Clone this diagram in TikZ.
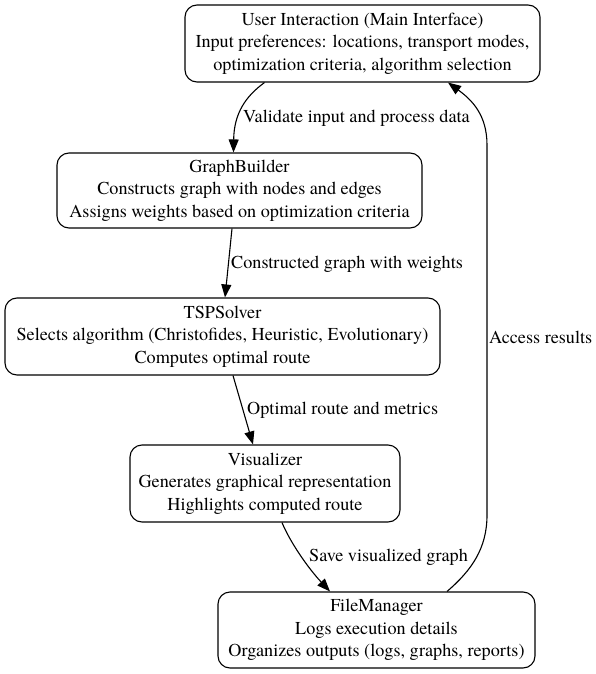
\documentclass[tikz,border=0pt]{standalone}
\usepackage{fontspec}
\setmainfont{texgyretermes-regular.otf}
\usetikzlibrary{arrows.meta}
\begin{document}
\begin{tikzpicture}[x=1pt,y=-1pt,
  font=\fontsize{18.2}{22.4}\selectfont,
  box/.style={draw, line width=1.1pt, rounded corners=12pt, align=center, inner sep=0pt},
  conn/.style={draw, line width=1.1pt, -{Triangle[length=13pt,width=10pt]}},
  lbl/.style={anchor=west, inner sep=0pt}]
\useasboundingbox (0,0) rectangle (596,674);
\node[box, minimum width=355pt, minimum height=77pt] (ui) at (362.5,43.5)
  {User Interaction (Main Interface)\\Input preferences: locations, transport modes,\\optimization criteria, algorithm selection};
\node[box, minimum width=365pt, minimum height=75pt] (gb) at (239.5,190.5)
  {GraphBuilder\\Constructs graph with nodes and edges\\Assigns weights based on optimization criteria};
\node[box, minimum width=435pt, minimum height=77pt] (tsp) at (222.5,336.5)
  {TSPSolver\\Selects algorithm (Christofides, Heuristic, Evolutionary)\\Computes optimal route};
\node[box, minimum width=270pt, minimum height=77pt] (vis) at (265,483.5)
  {Visualizer\\Generates graphical representation\\Highlights computed route};
\node[box, minimum width=317pt, minimum height=76pt] (fm) at (376.5,630)
  {FileManager\\Logs execution details\\Organizes outputs (logs, graphs, reports)};

\coordinate (a1) at ([xshift=-98pt]ui.south);
\coordinate (a2) at ([xshift=-6pt]gb.north);
\draw[conn] (a1) .. controls (246,96) and (234,113) .. (a2);
\node[lbl] (l1) at (243,118) {Validate input and process data};

\coordinate (b1) at ([xshift=-7.5pt]gb.south);
\coordinate (b2) at ([xshift=2.5pt]tsp.north);
\draw[conn] (b1) -- (b2);
\node[lbl] (l2) at (231,264) {Constructed graph with weights};

\coordinate (c1) at ([xshift=10.5pt]tsp.south);
\coordinate (c2) at ([xshift=-12pt]vis.north);
\draw[conn] (c1) -- (c2);
\node[lbl] (l3) at (247,410) {Optimal route and metrics};

\coordinate (d1) at ([xshift=17pt]vis.south);
\coordinate (d2) at ([xshift=-46.5pt]fm.north);
\draw[conn] (d1) .. controls (290,542) and (308,568) .. (d2);
\node[lbl] (l4) at (309,557) {Save visualized graph};

\coordinate (e1) at ([xshift=70.5pt]fm.north);
\coordinate (e2) at ([xshift=85.5pt]ui.south);
\draw[conn] (e1) .. controls (472,570) and (487,548) .. (487,515) -- (487,145) .. controls (487,115) and (472,100) .. (e2);
\node[lbl] (l5) at (489,337) {Access results};
\end{tikzpicture}
\end{document}
